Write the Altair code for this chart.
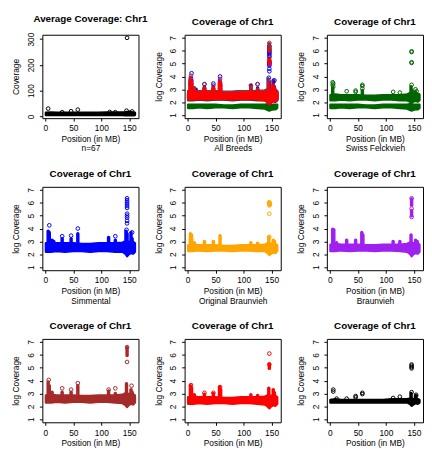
import altair as alt
import pandas as pd

# ---------------- data ----------------
# knots (position in MB) for the dense band of points
KX = [1, 10, 20, 35, 50, 65, 80, 95, 110, 125, 138, 143, 146, 149, 153, 157, 160]

# Average coverage (panel 1)
AVG_HI = [14, 15, 14, 14, 14, 14, 14, 14, 15, 15, 15, 16, 17, 16, 16, 15, 14]
AVG_LO = [5, 5, 5, 5, 5, 5, 5, 5, 5, 5, 5, 4, 4, 4, 4, 4, 5]
AVG_PTS = [(5, 30), (30, 16), (46, 20), (58, 26), (115, 17), (125, 16),
           (145, 22), (146, 305), (150, 15), (155, 19)]

# Swiss Felckvieh (two bands)
SF_HI = [2.55, 2.6, 2.55, 2.55, 2.55, 2.5, 2.5, 2.55, 2.55, 2.55, 2.6, 2.7, 2.75, 2.7, 2.7, 2.65, 2.6]
SF_LO = [2.15, 2.15, 2.2, 2.15, 2.2, 2.2, 2.15, 2.2, 2.2, 2.15, 2.15, 2.05, 1.95, 2.05, 2.1, 2.05, 2.15]
SF2_HI = [1.8, 1.8, 1.8, 1.8, 1.8, 1.75, 1.75, 1.8, 1.8, 1.8, 1.8, 1.85, 1.85, 1.8, 1.8, 1.8, 1.8]
SF2_LO = [1.55, 1.55, 1.6, 1.55, 1.6, 1.6, 1.55, 1.6, 1.6, 1.55, 1.5, 1.4, 1.35, 1.4, 1.45, 1.45, 1.55]
SF_COLS = [(5, 2.5, 3.1), (58, 2.5, 2.9), (145, 2.6, 3.2), (147, 2.6, 2.9), (153, 2.5, 2.8)]
SF_PTS = [(5, 3.55), (6, 3.45), (5, 3.35), (6, 3.2), (30, 2.85), (46, 2.9), (46, 2.8),
          (58, 3.35), (58, 3.25), (58, 3.05), (113, 2.8), (125, 2.75), (146, 5.95),
          (146, 5.9), (146, 5.1), (146, 5.05), (146, 3.35), (153, 3.0), (155, 2.85)]

# Simmental
SI_HI = [2.85, 2.9, 2.85, 2.85, 2.85, 2.8, 2.8, 2.85, 2.85, 2.85, 2.9, 3.0, 3.0, 2.95, 3.0, 2.95, 2.85]
SI_LO = [2.2, 2.2, 2.25, 2.2, 2.25, 2.25, 2.2, 2.25, 2.25, 2.2, 2.2, 2.05, 1.85, 2.0, 2.1, 2.05, 2.2]
SI_COLS = [(5, 2.8, 3.8), (7, 2.8, 3.7), (12, 2.8, 3.1), (15, 2.8, 3.0), (30, 2.8, 3.2),
           (46, 2.8, 3.2), (58, 2.8, 3.6), (113, 2.8, 3.3), (125, 2.8, 3.1),
           (144, 2.9, 3.8), (146, 2.9, 3.6), (153, 2.9, 3.7), (155, 2.9, 3.2)]
SI_PTS = [(7, 4.25), (30, 3.4), (46, 3.45), (58, 4.0), (125, 3.4), (146, 6.35), (146, 6.2),
          (146, 6.05), (146, 5.9), (146, 5.75), (146, 5.6), (146, 5.15), (146, 5.0),
          (146, 4.85), (146, 4.6), (146, 4.4), (145, 3.9), (155, 3.7)]

# Original Braunvieh
OB_HI = [2.7, 2.75, 2.7, 2.7, 2.7, 2.65, 2.65, 2.7, 2.7, 2.7, 2.75, 2.85, 2.85, 2.8, 2.85, 2.8, 2.7]
OB_LO = [2.25, 2.25, 2.3, 2.25, 2.3, 2.3, 2.25, 2.3, 2.3, 2.25, 2.25, 2.1, 1.95, 2.05, 2.15, 2.1, 2.25]
OB_COLS = [(5, 2.7, 3.6), (7, 2.7, 3.5), (12, 2.7, 2.9), (30, 2.7, 3.0), (46, 2.7, 3.0),
           (58, 2.7, 3.45), (113, 2.7, 2.9), (125, 2.7, 2.85), (145, 2.8, 3.35),
           (153, 2.8, 3.1), (155, 2.8, 3.0)]
OB_PTS = [(6, 3.15), (6, 3.0), (146, 6.05), (146, 6.0), (146, 5.95), (146, 5.9),
          (147, 5.85), (146, 5.8), (146, 5.15), (146, 3.35)]

# Braunvieh
BV_HI = [2.75, 2.8, 2.75, 2.75, 2.75, 2.7, 2.7, 2.75, 2.75, 2.75, 2.8, 2.9, 2.9, 2.85, 2.9, 2.85, 2.75]
BV_LO = [2.25, 2.25, 2.3, 2.25, 2.3, 2.3, 2.25, 2.3, 2.3, 2.25, 2.2, 2.05, 1.85, 2.0, 2.1, 2.05, 2.2]
BV_COLS = [(5, 2.7, 3.95), (7, 2.7, 3.9), (12, 2.7, 2.9), (30, 2.7, 3.1), (46, 2.7, 3.1),
           (57, 2.7, 3.7), (59, 2.7, 3.5), (113, 2.7, 3.0), (125, 2.7, 3.0), (145, 2.8, 3.5),
           (146, 5.8, 6.3), (146, 5.0, 5.4), (153, 2.8, 3.1), (156, 2.8, 3.0)]
BV_PTS = [(146, 6.35), (146, 5.55), (146, 4.9)]

# Brown panel
BR_HI = [2.85, 2.9, 2.85, 2.85, 2.85, 2.8, 2.8, 2.85, 2.85, 2.85, 2.9, 3.0, 3.0, 2.95, 3.0, 2.95, 2.85]
BR_LO = [2.3, 2.3, 2.35, 2.3, 2.35, 2.35, 2.3, 2.35, 2.35, 2.3, 2.25, 2.1, 1.95, 2.1, 2.2, 2.15, 2.3]
BR_COLS = [(5, 2.8, 3.9), (7, 2.8, 3.6), (12, 2.8, 3.1), (30, 2.8, 3.1), (46, 2.8, 3.1),
           (58, 2.8, 3.6), (113, 2.8, 3.2), (125, 2.8, 3.0), (145, 2.9, 3.75),
           (146, 5.95, 6.55), (153, 2.9, 3.3), (155, 2.9, 3.1)]
BR_PTS = [(6, 4.05), (30, 3.4), (46, 3.3), (58, 3.8), (113, 3.3), (125, 3.4),
          (146, 6.6), (146, 5.45), (154, 3.6)]

# Red panel
RD_HI = [2.7, 2.75, 2.7, 2.7, 2.7, 2.65, 2.65, 2.7, 2.7, 2.7, 2.75, 2.85, 2.85, 2.8, 2.85, 2.8, 2.7]
RD_LO = [2.2, 2.2, 2.25, 2.2, 2.25, 2.25, 2.2, 2.25, 2.25, 2.2, 2.15, 2.0, 1.85, 2.0, 2.1, 2.05, 2.2]
RD_COLS = [(5, 2.7, 3.6), (7, 2.7, 3.45), (12, 2.7, 2.9), (30, 2.7, 2.95), (46, 2.7, 3.0),
           (57, 2.7, 3.5), (59, 2.7, 3.3), (113, 2.7, 2.9), (125, 2.7, 2.85), (145, 2.8, 3.4),
           (146, 4.95, 5.3), (153, 2.8, 3.3), (155, 2.8, 3.05)]
RD_PTS = [(6, 3.65), (30, 3.05), (46, 3.05), (58, 3.5), (146, 6.1), (146, 5.25)]

# Black panel
BK_HI = [2.5, 2.55, 2.5, 2.5, 2.5, 2.5, 2.5, 2.5, 2.55, 2.55, 2.55, 2.6, 2.6, 2.55, 2.6, 2.55, 2.5]
BK_LO = [2.3, 2.3, 2.3, 2.3, 2.3, 2.3, 2.3, 2.3, 2.3, 2.3, 2.3, 2.2, 2.05, 2.15, 2.25, 2.2, 2.3]
BK_COLS = [(145, 2.6, 3.0), (153, 2.6, 2.8)]
BK_PTS = [(6, 3.3), (6, 3.15), (12, 2.6), (30, 2.6), (46, 2.8), (46, 2.7), (58, 3.05),
          (58, 2.95), (113, 2.65), (125, 2.75), (146, 5.25), (146, 5.15), (146, 5.05),
          (146, 4.95), (146, 3.1), (154, 2.9), (154, 2.8)]

X_TICKS = [0, 50, 100, 150]
LOG_TICKS = [1, 2, 3, 4, 5, 6, 7]
AVG_TICKS = [0, 100, 200, 300]

BREEDS = {
    "green": dict(color="#006400", bands=[(SF_LO, SF_HI), (SF2_LO, SF2_HI)], cols=SF_COLS, pts=SF_PTS),
    "blue": dict(color="#0000FF", bands=[(SI_LO, SI_HI)], cols=SI_COLS, pts=SI_PTS),
    "orange": dict(color="#FFA500", bands=[(OB_LO, OB_HI)], cols=OB_COLS, pts=OB_PTS),
    "purple": dict(color="#A020F0", bands=[(BV_LO, BV_HI)], cols=BV_COLS, pts=BV_PTS),
    "brown": dict(color="#A52A2A", bands=[(BR_LO, BR_HI)], cols=BR_COLS, pts=BR_PTS),
    "red": dict(color="#FF0000", bands=[(RD_LO, RD_HI)], cols=RD_COLS, pts=RD_PTS),
    "black": dict(color="#000000", bands=[(BK_LO, BK_HI)], cols=BK_COLS, pts=BK_PTS),
    "avg": dict(color="#000000", bands=[(AVG_LO, AVG_HI)], cols=[], pts=AVG_PTS),
}

FONT = "Liberation Sans"
W, H = 98, 85


def x_enc(field, subtitle):
    title = ["Position (in MB)", subtitle] if subtitle else "Position (in MB)"
    return alt.X(field, type="quantitative",
                 scale=alt.Scale(domain=[-5.4, 166.4], nice=False, zero=False),
                 axis=alt.Axis(values=X_TICKS, title=title, labelFlush=False))


def y_enc(field, avg):
    if avg:
        return alt.Y(field, type="quantitative",
                     scale=alt.Scale(domain=[-7, 317], nice=False, zero=False),
                     axis=alt.Axis(values=AVG_TICKS, title="Coverage"))
    return alt.Y(field, type="quantitative",
                 scale=alt.Scale(domain=[0.76, 7.24], nice=False, zero=False),
                 axis=alt.Axis(values=LOG_TICKS, title="log Coverage"))


def breed_layers(key, subtitle, avg=False):
    b = BREEDS[key]
    c = b["color"]
    layers = []
    for lo, hi in b["bands"]:
        df = pd.DataFrame({"x": KX, "lo": lo, "hi": hi})
        layers.append(alt.Chart(df).mark_area(strokeWidth=2.5, strokeJoin="round").encode(
            x=x_enc("x", subtitle), y=y_enc("lo", avg), y2="hi",
            color=alt.value(c), stroke=alt.value(c)))
    if b["cols"]:
        dfc = pd.DataFrame(b["cols"], columns=["x", "lo", "hi"])
        layers.append(alt.Chart(dfc).mark_rule(strokeWidth=3.5, strokeCap="round").encode(
            x=x_enc("x", subtitle), y=y_enc("lo", avg), y2="hi", color=alt.value(c)))
    dfp = pd.DataFrame(b["pts"], columns=["x", "y"])
    layers.append(alt.Chart(dfp).mark_point(filled=False, size=14, strokeWidth=1, opacity=1).encode(
        x=x_enc("x", subtitle), y=y_enc("y", avg), color=alt.value(c)))
    return layers


def panel(layers, title):
    return alt.layer(*layers).properties(
        width=W, height=H,
        title=alt.TitleParams(title, fontSize=10, fontWeight="bold", font=FONT,
                              color="black", offset=8, anchor="middle"))


p1 = panel(breed_layers("avg", "n=67", avg=True), "Average Coverage: Chr1")
all_layers = []
for k in ["green", "orange", "purple", "blue", "brown", "red"]:
    all_layers += breed_layers(k, "All Breeds")
p2 = panel(all_layers, "Coverage of Chr1")
p3 = panel(breed_layers("green", "Swiss Felckvieh"), "Coverage of Chr1")
p4 = panel(breed_layers("blue", "Simmental"), "Coverage of Chr1")
p5 = panel(breed_layers("orange", "Original Braunvieh"), "Coverage of Chr1")
p6 = panel(breed_layers("purple", "Braunvieh"), "Coverage of Chr1")
p7 = panel(breed_layers("brown", None), "Coverage of Chr1")
p8 = panel(breed_layers("red", None), "Coverage of Chr1")
p9 = panel(breed_layers("black", None), "Coverage of Chr1")

chart = alt.concat(p1, p2, p3, p4, p5, p6, p7, p8, p9, columns=3,
                   spacing={"row": 70, "column": 47}, bounds="flush").properties(
    padding={"left": 3, "top": 1, "right": 0, "bottom": 0}
).configure(background="white", font=FONT).configure_view(
    stroke="black", strokeWidth=1
).configure_axis(
    grid=False, domain=False, ticks=True, tickSize=3, tickColor="black", tickWidth=1,
    labelFont=FONT, titleFont=FONT, labelFontSize=8.5, titleFontSize=8.5,
    labelColor="black", titleColor="black", titleFontWeight="normal", titleLineHeight=10
).configure_axisX(
    labelPadding=3, titlePadding=2, labelAngle=0
).configure_axisY(
    labelAngle=270, labelAlign="center", labelBaseline="bottom", labelPadding=4,
    minExtent=14, maxExtent=14, titlePadding=8
)

chart.save("out.html", embed_options={"renderer": "svg", "actions": False})
